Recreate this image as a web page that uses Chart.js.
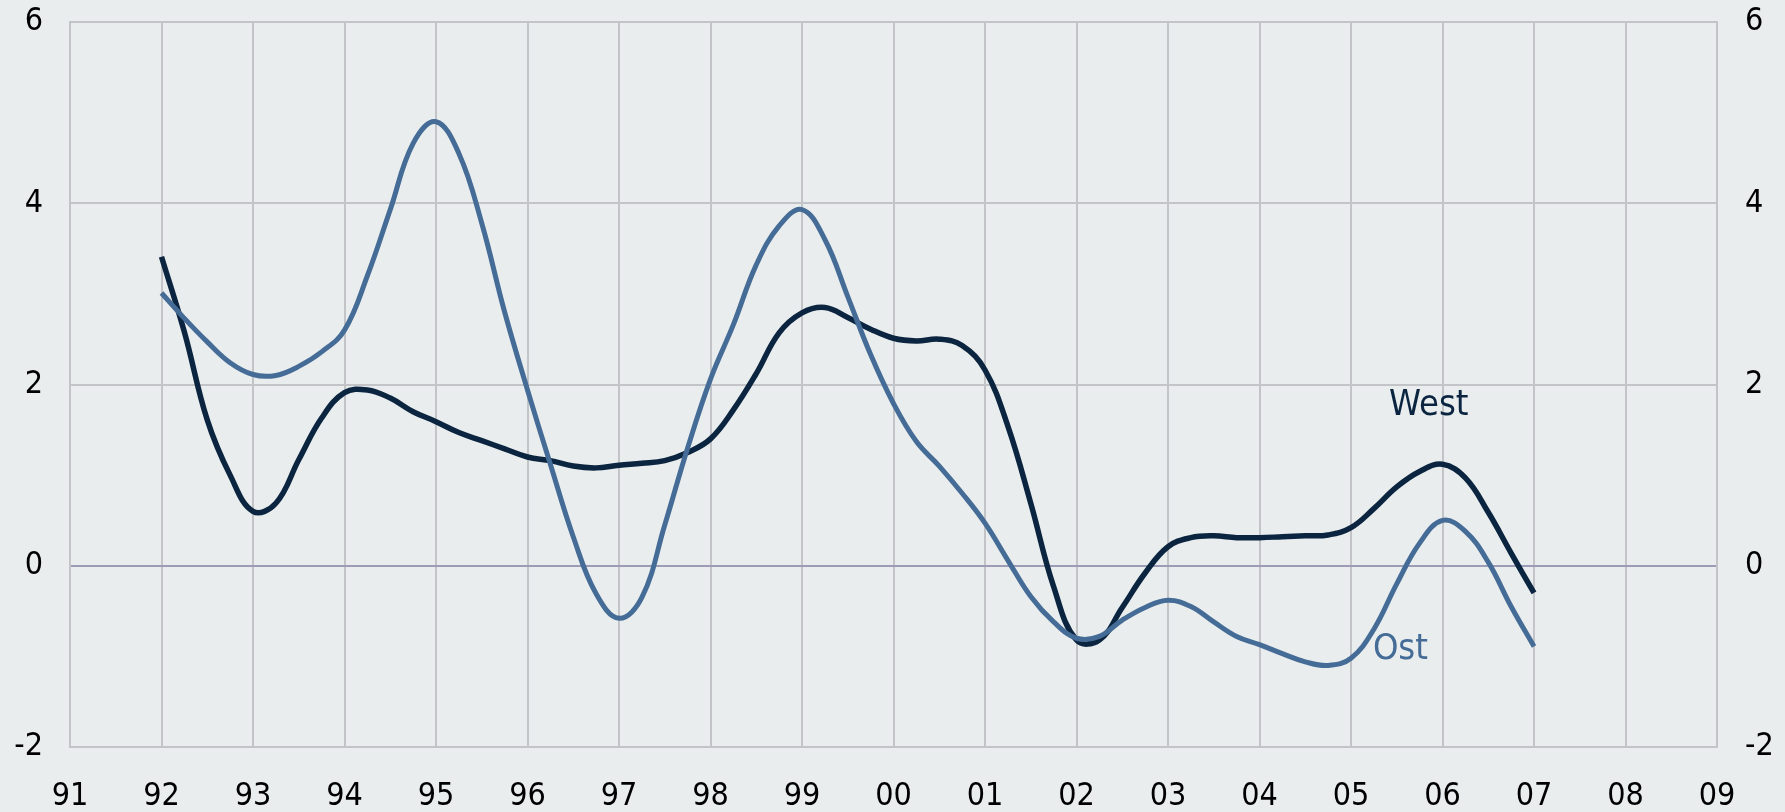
<!DOCTYPE html>
<html>
<head>
<meta charset="utf-8">
<script src="https://cdn.jsdelivr.net/npm/chart.js@4.4.0/dist/chart.umd.min.js"></script>
<style>
    html, body { margin: 0; padding: 0; background: #e9edee; }
    #chart { display: block; }
</style>
</head>
<body>
<canvas id="chart" width="1785" height="812"></canvas>
<script>
// quarterly points, 1992 Q1 .. 2007 Q1
const startYear = 1992;
const quarters = [];
for (let i = 0; i <= 60; i++) quarters.push(startYear + i / 4);

const westValues = [
    3.41, 2.58, 1.61, 1.00, 0.60, 0.69, 1.17, 1.63,
    1.91, 1.94, 1.85, 1.70, 1.59, 1.47, 1.38, 1.29,
    1.20, 1.16, 1.10, 1.08, 1.11, 1.13, 1.16, 1.25,
    1.40, 1.72, 2.12, 2.57, 2.79, 2.85, 2.74, 2.61,
    2.51, 2.48, 2.50, 2.43, 2.16, 1.54, 0.69, -0.23,
    -0.82, -0.82, -0.46, -0.08, 0.21, 0.31, 0.33, 0.31,
    0.31, 0.32, 0.33, 0.34, 0.42, 0.63, 0.87, 1.04,
    1.12, 0.97, 0.59, 0.14, -0.30
];

const ostValues = [
    3.01, 2.73, 2.47, 2.24, 2.11, 2.10, 2.20, 2.36,
    2.60, 3.20, 3.93, 4.66, 4.90, 4.55, 3.78, 2.80,
    1.94, 1.12, 0.32, -0.31, -0.58, -0.35, 0.45, 1.30,
    2.06, 2.66, 3.32, 3.75, 3.93, 3.60, 2.97, 2.33,
    1.79, 1.37, 1.10, 0.80, 0.47, 0.06, -0.34, -0.62,
    -0.80, -0.78, -0.60, -0.46, -0.38, -0.45, -0.62, -0.78,
    -0.87, -0.97, -1.06, -1.10, -1.02, -0.70, -0.20, 0.25,
    0.50, 0.38, 0.04, -0.45, -0.89
];

// series labels placed inside the plot (data coordinates)
const seriesLabels = [
    { text: 'West', x: 2005.85, y: 1.77, color: '#0b2540' },
    { text: 'Ost', x: 2005.54, y: -0.93, color: '#456c96' }
];

const fontFamily = '"DejaVu Sans Condensed", "DejaVu Sans", sans-serif';
const gridColor = '#c3c4c7';

function toPoints(values) {
    return values.map((v, i) => ({ x: quarters[i], y: v }));
}

// fixed axis sizes so the plot box sits where the original one does
function fixVertical(width) {
    return s => {
        s.width = width;
        s.paddingTop = 0;
        s.paddingBottom = 0;
    };
}

// draw the West / Ost names next to the lines
const labelPlugin = {
    id: 'seriesLabels',
    afterDatasetsDraw(chart) {
        const ctx = chart.ctx;
        const xs = chart.scales.x;
        const ys = chart.scales.y;
        ctx.save();
        ctx.font = '36px ' + fontFamily;
        ctx.textAlign = 'center';
        ctx.textBaseline = 'middle';
        seriesLabels.forEach(l => {
            ctx.fillStyle = l.color;
            ctx.fillText(l.text, xs.getPixelForValue(l.x), ys.getPixelForValue(l.y));
        });
        ctx.restore();
    }
};

const ctx = document.getElementById('chart').getContext('2d');
new Chart(ctx, {
    type: 'line',
    data: {
        datasets: [
            {
                label: 'Ost',
                data: toPoints(ostValues),
                borderColor: '#456c96',
                borderWidth: 5,
                pointRadius: 0,
                tension: 0.4,
                fill: false
            },
            {
                label: 'West',
                data: toPoints(westValues),
                borderColor: '#0b2540',
                borderWidth: 5.5,
                pointRadius: 0,
                tension: 0.4,
                fill: false
            }
        ]
    },
    options: {
        responsive: false,
        animation: false,
        layout: { padding: { top: 22, left: 0, right: 0, bottom: 0 } },
        plugins: {
            legend: { display: false },
            tooltip: { enabled: false }
        },
        scales: {
            x: {
                type: 'linear',
                min: 1991,
                max: 2009,
                afterFit: s => { s.height = 65; s.paddingLeft = 0; s.paddingRight = 0; },
                ticks: {
                    stepSize: 1,
                    padding: 30,
                    color: '#000',
                    font: { family: fontFamily, size: 32 },
                    maxRotation: 0,
                    callback: v => String(v % 100).padStart(2, '0')
                },
                grid: { color: gridColor, lineWidth: 2, drawTicks: false },
                border: { color: gridColor, width: 2 }
            },
            y: {
                position: 'left',
                min: -2,
                max: 6,
                afterFit: fixVertical(70),
                ticks: {
                    stepSize: 2,
                    padding: 27,
                    color: '#000',
                    font: { family: fontFamily, size: 32 }
                },
                grid: {
                    drawTicks: false,
                    lineWidth: 2,
                    color: c => c.tick && c.tick.value === 0 ? '#9c9cb6' : gridColor
                },
                border: { color: gridColor, width: 2 }
            },
            y1: {
                position: 'right',
                min: -2,
                max: 6,
                afterFit: fixVertical(68),
                ticks: {
                    stepSize: 2,
                    padding: 28,
                    color: '#000',
                    font: { family: fontFamily, size: 32 }
                },
                grid: { drawOnChartArea: false, drawTicks: false },
                border: { color: gridColor, width: 2 }
            }
        }
    },
    plugins: [labelPlugin]
});
</script>
</body>
</html>
